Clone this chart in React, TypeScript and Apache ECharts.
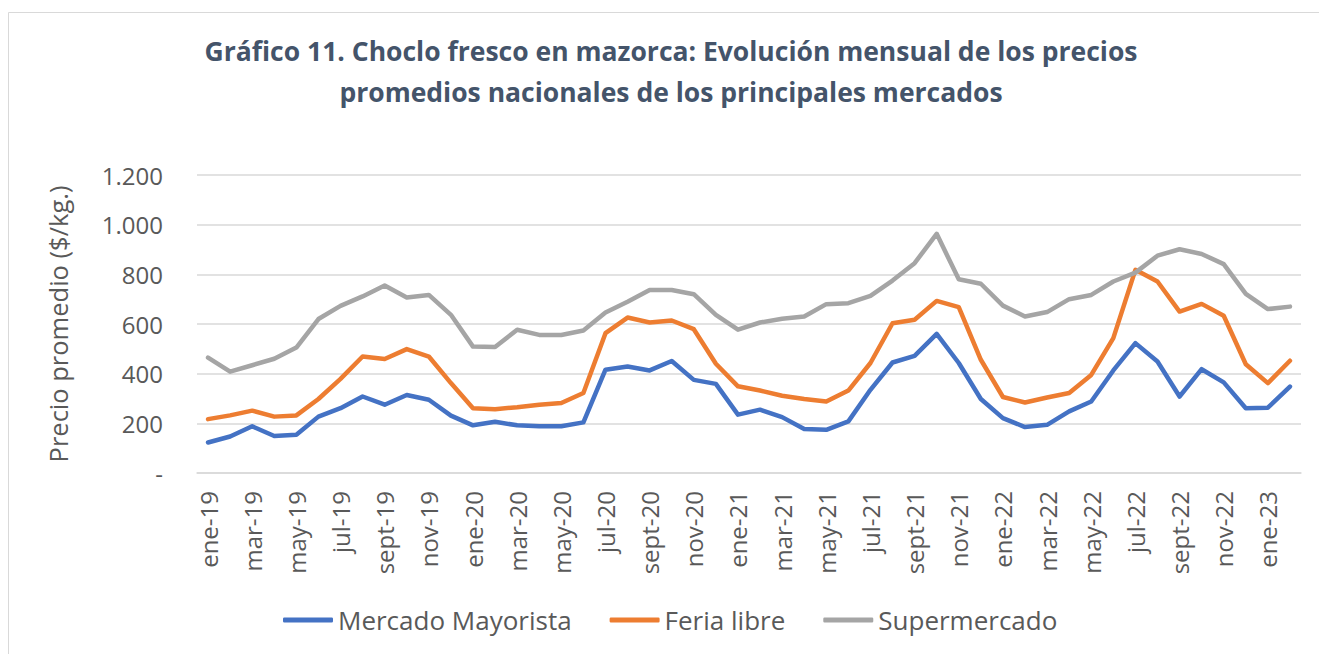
import React, { useEffect, useRef } from "react";
import * as echarts from "echarts";

const categories = [
  "ene-19","feb-19","mar-19","abr-19","may-19","jun-19","jul-19","ago-19","sept-19","oct-19","nov-19","dic-19",
  "ene-20","feb-20","mar-20","abr-20","may-20","jun-20","jul-20","ago-20","sept-20","oct-20","nov-20","dic-20",
  "ene-21","feb-21","mar-21","abr-21","may-21","jun-21","jul-21","ago-21","sept-21","oct-21","nov-21","dic-21",
  "ene-22","feb-22","mar-22","abr-22","may-22","jun-22","jul-22","ago-22","sept-22","oct-22","nov-22","dic-22",
  "ene-23","feb-23",
];

const mercadoMayorista = [
  123, 147, 188, 149, 154, 227, 261, 308, 275, 314, 295, 231,
  192, 206, 192, 188, 188, 204, 416, 429, 413, 451, 375, 359,
  235, 255, 225, 177, 174, 208, 335, 445, 472, 560, 443, 298,
  221, 185, 194, 248, 288, 413, 523, 449, 308, 418, 365, 261,
  263, 348,
];

const feriaLibre = [
  217, 232, 251, 227, 232, 298, 379, 469, 459, 499, 469, 362,
  261, 257, 265, 275, 282, 322, 563, 626, 606, 614, 579, 440,
  349, 332, 311, 298, 288, 332, 443, 603, 617, 693, 668, 456,
  306, 284, 304, 322, 395, 543, 818, 771, 650, 681, 633, 438,
  362, 452,
];

const supermercado = [
  465, 408, 434, 460, 505, 620, 673, 711, 755, 707, 717, 637,
  509, 507, 577, 556, 556, 574, 646, 690, 737, 737, 720, 637,
  577, 606, 621, 630, 680, 684, 713, 775, 845, 963, 780, 762,
  674, 630, 648, 700, 717, 771, 807, 875, 901, 882, 841, 721,
  660, 670,
];

const seriesNames = ["Mercado Mayorista", "Feria libre", "Supermercado"];
const seriesColors = ["#4472C4", "#ED7D31", "#A5A5A5"];

const titleText =
  "Gráfico 11. Choclo fresco en mazorca: Evolución mensual de los precios\npromedios nacionales de los principales mercados";
const yAxisName = "Precio promedio ($/kg.)";

const FONT = "'Open Sans', sans-serif";

function fmt(v: number): string {
  if (v === 0) return "-";
  return String(v).replace(/\B(?=(\d{3})+(?!\d))/g, ".");
}

export default function App() {
  const ref = useRef<HTMLDivElement>(null);

  useEffect(() => {
    document.body.style.margin = "0";
    document.body.style.overflow = "hidden";
    if (!ref.current) return;
    const chart = echarts.init(ref.current, undefined, { renderer: "svg" });
    const data = [mercadoMayorista, feriaLibre, supermercado];
    chart.setOption({
      animation: false,
      backgroundColor: "#ffffff",
      textStyle: { fontFamily: FONT },
      graphic: [
        {
          type: "rect",
          shape: { x: 8.5, y: 12.5, width: 1400, height: 700 },
          style: { fill: "none", stroke: "#D9D9D9", lineWidth: 1 },
          silent: true,
        },
        {
          type: "text",
          x: 671,
          y: 30,
          style: {
            text: titleText,
            align: "center",
            verticalAlign: "top",
            fill: "#44546A",
            font: `bold 26.5px ${FONT}`,
            lineHeight: 41,
          },
        },
      ],
      legend: {
        data: seriesNames,
        left: 278,
        top: 602,
        icon: "roundRect",
        itemWidth: 50,
        itemHeight: 5,
        itemGap: 38,
        textStyle: { fontSize: 26, color: "#595959", fontFamily: FONT },
      },
      grid: { left: 197, right: 18, top: 175, bottom: 181, containLabel: false },
      xAxis: {
        type: "category",
        data: categories,
        boundaryGap: true,
        axisLine: { show: true, lineStyle: { color: "#D9D9D9", width: 1.5 } },
        axisTick: { show: false },
        axisLabel: {
          interval: 1,
          rotate: 90,
          margin: 18,
          fontSize: 24,
          color: "#595959",
          fontFamily: FONT,
        },
      },
      yAxis: {
        type: "value",
        min: 0,
        max: 1200,
        interval: 200,
        name: yAxisName,
        nameLocation: "middle",
        nameGap: 126,
        nameTextStyle: { fontSize: 25.5, color: "#595959", fontFamily: FONT },
        axisLine: { show: false },
        axisTick: { show: false },
        splitLine: { lineStyle: { color: "#D9D9D9", width: 1.5 } },
        axisLabel: {
          formatter: (v: number) => fmt(v),
          margin: 34,
          fontSize: 24,
          color: "#595959",
          fontFamily: FONT,
        },
      },
      series: seriesNames.map((name, i) => ({
        name,
        type: "line",
        data: data[i],
        symbol: "none",
        color: seriesColors[i],
        lineStyle: { width: 4.5, color: seriesColors[i], cap: "round", join: "round" },
      })),
    });
    return () => chart.dispose();
  }, []);

  return <div ref={ref} style={{ width: 1319, height: 654 }} />;
}
